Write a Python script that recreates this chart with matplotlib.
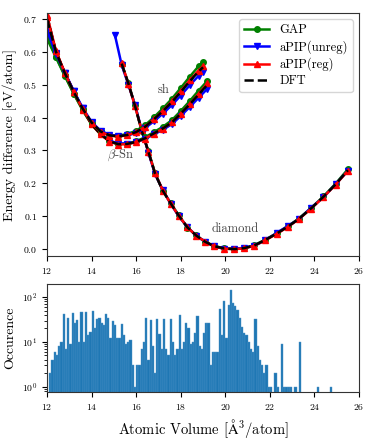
import numpy as np
import matplotlib
matplotlib.use("Agg")
import matplotlib.pyplot as plt

plt.rcParams["font.family"] = ["cmr10", "DejaVu Serif"]
plt.rcParams["mathtext.fontset"] = "cm"
plt.rcParams["axes.formatter.use_mathtext"] = True

# ---- energy-volume curves ----
# diamond
vol_dia = [15.35, 15.65, 15.95, 16.25, 16.55, 16.85, 17.2, 17.55, 17.9, 18.3, 18.7, 19.1, 19.5,
           19.95, 20.4, 20.85, 21.3, 21.8, 22.3, 22.8, 23.3, 23.85, 24.4, 24.95, 25.5]
dft_dia = [0.564, 0.504, 0.435, 0.360, 0.296, 0.229, 0.177, 0.139, 0.103, 0.066, 0.041, 0.022, 0.009,
           0.002, 0.000, 0.003, 0.011, 0.028, 0.047, 0.068, 0.092, 0.124, 0.159, 0.197, 0.240]
gap_dia = [0.562, 0.505, 0.437, 0.358, 0.298, 0.231, 0.176, 0.140, 0.104, 0.065, 0.042, 0.021, 0.010,
           0.002, 0.001, 0.003, 0.012, 0.029, 0.048, 0.069, 0.093, 0.125, 0.160, 0.199, 0.243]
unreg_vol_dia = [15.05] + vol_dia
unreg_dia = [0.650, 0.560, 0.500, 0.438, 0.362, 0.293, 0.228, 0.179, 0.138, 0.101, 0.067, 0.040, 0.023, 0.008,
             0.001, 0.001, 0.004, 0.010, 0.027, 0.049, 0.070, 0.091, 0.126, 0.157, 0.198, 0.238]
reg_dia = [0.565, 0.503, 0.434, 0.361, 0.295, 0.230, 0.178, 0.138, 0.102, 0.067, 0.040, 0.023, 0.008,
           0.001, 0.000, 0.002, 0.010, 0.027, 0.046, 0.067, 0.091, 0.123, 0.158, 0.196, 0.238]

# beta-Sn
vol_bsn = [12.0, 12.4, 12.8, 13.2, 13.6, 14.0, 14.4, 14.8, 15.2, 15.6, 16.0, 16.4, 16.8, 17.2,
           17.6, 18.0, 18.4, 18.8, 19.2]
dft_bsn = [0.710, 0.600, 0.535, 0.478, 0.425, 0.380, 0.350, 0.328, 0.319, 0.320, 0.326, 0.337,
           0.352, 0.367, 0.385, 0.412, 0.440, 0.470, 0.500]
gap_bsn = [0.645, 0.585, 0.528, 0.472, 0.422, 0.379, 0.349, 0.329, 0.320, 0.321, 0.328, 0.340,
           0.356, 0.372, 0.392, 0.420, 0.450, 0.482, 0.512]
unreg_bsn = [0.670, 0.595, 0.537, 0.481, 0.428, 0.382, 0.352, 0.330, 0.321, 0.321, 0.325, 0.335,
             0.349, 0.363, 0.380, 0.405, 0.432, 0.460, 0.488]
reg_bsn = [0.712, 0.603, 0.536, 0.477, 0.424, 0.379, 0.349, 0.327, 0.318, 0.319, 0.325, 0.336,
           0.351, 0.366, 0.385, 0.412, 0.441, 0.472, 0.504]

# simple hexagonal
vol_sh = [12.0, 12.4, 12.8, 13.2, 13.6, 14.0, 14.4, 14.8, 15.2, 15.6, 16.0, 16.4, 16.8, 17.2,
          17.6, 18.0, 18.4, 18.8, 19.0]
dft_sh = [0.700, 0.600, 0.535, 0.478, 0.427, 0.385, 0.358, 0.346, 0.343, 0.347, 0.356, 0.372,
          0.395, 0.420, 0.447, 0.478, 0.510, 0.540, 0.553]
gap_sh = [0.640, 0.583, 0.526, 0.473, 0.425, 0.384, 0.358, 0.347, 0.345, 0.350, 0.360, 0.377,
          0.401, 0.428, 0.457, 0.490, 0.524, 0.556, 0.569]
unreg_sh = [0.665, 0.594, 0.536, 0.480, 0.429, 0.387, 0.360, 0.348, 0.344, 0.346, 0.353, 0.368,
            0.389, 0.412, 0.438, 0.467, 0.498, 0.527, 0.540]
reg_sh = [0.705, 0.602, 0.536, 0.477, 0.426, 0.384, 0.357, 0.345, 0.342, 0.346, 0.355, 0.372,
          0.395, 0.421, 0.449, 0.480, 0.513, 0.543, 0.556]

# ---- histogram of training-set volumes (bins of 0.1 starting at 12.1) ----
bin_start = 12.1
bin_width = 0.1
counts = [2, 4, 6, 5, 8, 10, 41, 7, 34, 9, 44, 26, 31, 10, 46, 10, 46, 14, 17, 50,
          20, 32, 34, 27, 24, 41, 34, 12, 30, 24, 12, 12, 25, 14, 9, 10, 11, 3, 1, 3,
          3, 7, 10, 34, 4, 31, 8, 2, 32, 15, 7, 32, 7, 5, 32, 10, 5, 7, 40, 7,
          10, 27, 20, 9, 10, 16, 38, 8, 7, 16, 26, 26, 3, 6, 6, 6, 54, 14, 81, 12,
          66, 143, 75, 64, 51, 35, 22, 16, 14, 10, 7, 6, 33, 8, 4, 3, 2, 3, 1, 1,
          0, 2, 1, 0, 9, 1, 1, 1, 1, 0, 1, 0, 10, 0, 0, 0, 0, 0, 0, 0,
          1, 0, 0, 0, 0, 0, 1]

fig = plt.figure(figsize=(3.74, 4.42), dpi=100)
ax = fig.add_axes([0.1257, 0.4208, 0.8343, 0.5498])
ax2 = fig.add_axes([0.1257, 0.1131, 0.8343, 0.2444])

lw = 1.8
ms = 4
phases = [
    (vol_dia, gap_dia, unreg_vol_dia, unreg_dia, reg_dia, dft_dia),
    (vol_bsn, gap_bsn, vol_bsn, unreg_bsn, reg_bsn, dft_bsn),
    (vol_sh, gap_sh, vol_sh, unreg_sh, reg_sh, dft_sh),
]
for i, (v, g, vu, u, r, d) in enumerate(phases):
    ax.plot(v, g, color="green", marker="o", lw=lw, ms=ms, label="GAP" if i == 0 else None)
    ax.plot(vu, u, color="blue", marker="v", lw=lw, ms=ms, label="aPIP(unreg)" if i == 0 else None)
    ax.plot(v, r, color="red", marker="^", lw=lw, ms=ms, label="aPIP(reg)" if i == 0 else None)
    ax.plot(v, d, color="black", ls="--", lw=lw, label="DFT" if i == 0 else None)

ax.text(17.25, 0.483, "sh", fontsize=9, color="#444444", ha="center", va="center")
ax.text(15.3, 0.285, r"$\beta$-Sn", fontsize=9, color="#444444", ha="center", va="center")
ax.text(20.45, 0.062, "diamond", fontsize=9, color="#444444", ha="center", va="center")

ax.set_xlim(12, 26)
ax.set_ylim(-0.021, 0.718)
ax.set_ylabel("Energy difference [eV/atom]", fontsize=10)
ax.tick_params(labelsize=7)
ax.legend(loc="upper right", fontsize=9, handlelength=2.0, borderpad=0.4, labelspacing=0.3)

cnt = np.array(counts, dtype=float)
left_edges = bin_start + bin_width * np.arange(len(cnt))
keep = cnt > 0
ax2.bar(left_edges[keep], cnt[keep], width=bin_width, align="edge", color="#1f77b4",
        edgecolor="#4f95c9", linewidth=0.3)
ax2.set_yscale("log")
ax2.set_xlim(12, 26)
ax2.set_ylim(0.77, 195)
ax2.set_ylabel("Occurence", fontsize=10)
ax2.set_xlabel(r"Atomic Volume [$\mathrm{\AA}^3$/atom]", fontsize=10.5)
ax2.tick_params(labelsize=7)

for a in (ax, ax2):
    for s in a.spines.values():
        s.set_color("#333333")

fig.savefig("out.png", dpi=100)
